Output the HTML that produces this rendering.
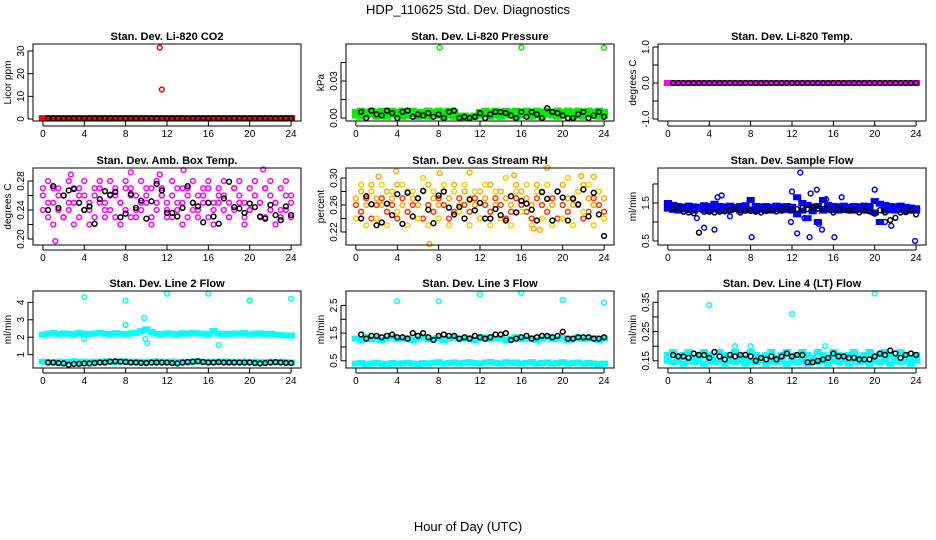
<!DOCTYPE html>
<html><head><meta charset="utf-8"><style>
html,body{margin:0;padding:0;background:#fff;}
svg{display:block;font-family:"Liberation Sans",sans-serif;}
</style></head><body>
<svg id="chart" width="936" height="540" viewBox="0 0 936 540" xmlns="http://www.w3.org/2000/svg">
<text x="468" y="14" text-anchor="middle" font-size="13">HDP_110625  Std. Dev. Diagnostics</text>
<text x="468" y="531" text-anchor="middle" font-size="13">Hour of Day (UTC)</text>
</svg>
<script>
// ---- data ----
const xTicks=[0,4,8,12,16,20,24];
const co2Color=[0.4,0.4,0.4,0.4,0.4,0.4,0.4,0.4,0.4,0.4,0.4,0.4,0.4,0.4,0.4,0.4,0.4,0.4,0.4,0.4,0.4,0.4,0.4,0.4,0.4,0.4,0.4,0.4,0.4,0.4,0.4,0.4,0.4,0.4,0.4,0.4,0.4,0.4,0.4,0.4,0.4,0.4,0.4,0.4,0.4,0.4,0.4,0.4,0.4];
const co2Black=[0.3,0.3,0.3,0.3,0.3,0.3,0.3,0.3,0.3,0.3,0.3,0.3,0.3,0.3,0.3,0.3,0.3,0.3,0.3,0.3,0.3,0.3,0.3,0.3,0.3,0.3,0.3,0.3,0.3,0.3,0.3,0.3,0.3,0.3,0.3,0.3,0.3,0.3,0.3,0.3,0.3,0.3,0.3,0.3,0.3,0.3,0.3,0.3];
const co2OutX=[11.3,11.5];
const co2OutY=[31.5,13];

const presColor=[0.005,0.006,0.005,0.006,0.005,0.006,0.005,0.006,0.005,0.006,0.005,0.006,0.005,0.005,0.006,0.005,0.006,0.005,0.006,0.005,0.002,0.002,0.001,0.002,0.005,0.006,0.005,0.006,0.005,0.006,0.005,0.006,0.005,0.006,0.005,0.006,0.005,0.006,0.005,0.006,0.005,0.006,0.005,0.006,0.005,0.006,0.005,0.006,0.005];
const presColor2=[0.002,0.001,0.002,0.003,0.001,0.002,0.001,0.003,0.002,0.001,0.002,0.003,0.001,0.002,0.001,0.003,0.002,0.001,0.002,0.001,0.001,0.0,0.001,0.001,0.002,0.003,0.001,0.002,0.001,0.003,0.002,0.001,0.002,0.003,0.001,0.002,0.001,0.003,0.002,0.001,0.002,0.003,0.001,0.002,0.001,0.003,0.002,0.001,0.002];
const presBlack=[0.005,0.0,0.006,0.003,0.002,0.006,0.004,0.0,0.005,0.006,0.001,0.003,0.002,0.004,0.001,0.003,0.0,0.005,0.006,0.0,0.001,0.0,0.001,0.004,0.0,0.003,0.005,0.005,0.004,0.002,0.0,0.005,0.001,0.005,0.003,0.0,0.008,0.005,0.004,0.002,0.0,0.0,0.003,0.005,0.0,0.002,0.005,0.001];
const presOutX=[8.1,16,24];
const presOutY=[0.057,0.057,0.057];

const tempColor=[0,0,0,0,0,0,0,0,0,0,0,0,0,0,0,0,0,0,0,0,0,0,0,0,0,0,0,0,0,0,0,0,0,0,0,0,0,0,0,0,0,0,0,0,0,0,0,0,0];
const tempBlack=[0,0,0,0,0,0,0,0,0,0,0,0,0,0,0,0,0,0,0,0,0,0,0,0,0,0,0,0,0,0,0,0,0,0,0,0,0,0,0,0,0,0,0,0,0,0,0,0];

const ambColor=[0.26,0.25,0.27,0.24,0.26,0.25,0.27,0.26,0.24,0.25,0.26,0.27,0.25,0.24,0.26,0.25,0.27,0.26,0.24,0.25,0.26,0.27,0.25,0.26,0.24,0.26,0.25,0.27,0.26,0.25,0.24,0.26,0.27,0.25,0.26,0.24,0.25,0.27,0.26,0.25,0.24,0.26,0.25,0.27,0.26,0.25,0.24,0.26,0.25];
const ambColor2=[0.24,0.23,0.25,0.26,0.23,0.24,0.25,0.23,0.26,0.24,0.23,0.25,0.24,0.26,0.23,0.25,0.24,0.23,0.26,0.24,0.25,0.23,0.24,0.26,0.25,0.23,0.24,0.25,0.23,0.24,0.26,0.25,0.23,0.24,0.25,0.26,0.23,0.24,0.25,0.23,0.24,0.26,0.25,0.23,0.24,0.25,0.23,0.24,0.26];
const ambColor3=[0.27,0.28,0.22,0.27,0.23,0.28,0.22,0.27,0.28,0.22,0.27,0.28,0.23,0.28,0.27,0.22,0.28,0.27,0.23,0.28,0.27,0.22,0.28,0.27,0.23,0.28,0.27,0.22,0.27,0.28,0.23,0.27,0.28,0.22,0.27,0.28,0.23,0.27,0.28,0.22,0.27,0.28,0.23,0.27,0.28,0.22,0.27,0.28,0.23];
const ambBlack=[0.24,0.273,0.243,0.26,0.267,0.269,0.25,0.24,0.245,0.221,0.255,0.266,0.261,0.265,0.23,0.235,0.262,0.243,0.253,0.228,0.252,0.276,0.267,0.236,0.236,0.231,0.243,0.273,0.25,0.245,0.223,0.25,0.231,0.221,0.256,0.279,0.244,0.242,0.236,0.249,0.244,0.231,0.228,0.247,0.233,0.226,0.245,0.233];
const ambOutX=[1.2,21.3,2.7,8.5,11.3,13.6];
const ambOutY=[0.197,0.296,0.289,0.292,0.289,0.295];

const rhColor=[0.27,0.28,0.26,0.29,0.27,0.26,0.28,0.27,0.29,0.26,0.28,0.27,0.26,0.28,0.29,0.27,0.26,0.28,0.27,0.29,0.26,0.28,0.27,0.26,0.28,0.27,0.29,0.26,0.28,0.27,0.26,0.29,0.28,0.27,0.26,0.29,0.28,0.27,0.26,0.28,0.29,0.27,0.26,0.28,0.29,0.27,0.26,0.28,0.27];
const rhColor2=[0.26,0.25,0.27,0.24,0.26,0.27,0.25,0.26,0.24,0.27,0.25,0.26,0.27,0.24,0.26,0.25,0.27,0.26,0.24,0.25,0.27,0.26,0.25,0.27,0.24,0.26,0.25,0.27,0.26,0.24,0.25,0.27,0.26,0.25,0.24,0.27,0.26,0.25,0.27,0.24,0.26,0.25,0.27,0.26,0.24,0.25,0.27,0.26,0.25];
const rhColor3=[0.24,0.29,0.23,0.28,0.24,0.29,0.23,0.28,0.25,0.29,0.23,0.28,0.24,0.3,0.23,0.28,0.24,0.29,0.23,0.28,0.25,0.29,0.23,0.28,0.24,0.29,0.23,0.28,0.24,0.3,0.23,0.28,0.25,0.29,0.23,0.28,0.24,0.29,0.23,0.28,0.24,0.3,0.23,0.28,0.25,0.29,0.23,0.28,0.24];
const rhBlack=[0.24,0.273,0.261,0.23,0.234,0.262,0.245,0.276,0.232,0.278,0.243,0.27,0.281,0.253,0.233,0.274,0.28,0.256,0.246,0.257,0.24,0.268,0.252,0.263,0.24,0.24,0.254,0.245,0.237,0.273,0.249,0.266,0.262,0.253,0.237,0.279,0.269,0.237,0.28,0.271,0.237,0.269,0.261,0.283,0.243,0.278,0.246,0.214];
const rhOutX=[7.1,2.2,3.9,8.1,11,15.3,17.2,18.5,21.8,23,17.8];
const rhOutY=[0.202,0.302,0.31,0.307,0.308,0.304,0.225,0.315,0.303,0.302,0.223];

const flowColor=[1.5,1.45,1.42,1.4,1.43,1.41,1.4,1.44,1.42,1.48,1.42,1.41,1.43,1.4,1.42,1.44,1.58,1.42,1.41,1.42,1.4,1.43,1.41,1.42,1.4,1.65,1.5,1.45,1.4,1.42,1.58,1.45,1.42,1.41,1.43,1.4,1.42,1.41,1.43,1.42,1.55,1.48,1.45,1.42,1.41,1.43,1.4,1.38,1.36];
const flowColor2=[1.35,1.32,1.3,1.33,1.31,1.3,1.34,1.32,1.3,1.33,1.31,1.3,1.32,1.34,1.3,1.31,1.33,1.3,1.32,1.31,1.3,1.33,1.31,1.32,1.3,1.2,1.3,1.1,1.28,1.0,1.3,1.32,1.31,1.3,1.33,1.31,1.3,1.32,1.31,1.3,1.25,1.0,1.3,1.31,1.3,1.32,1.3,1.31,1.3];
const flowBlack=[1.35,1.38,1.27,1.25,1.23,0.72,1.27,1.27,1.25,1.27,1.28,1.3,1.35,1.25,1.3,1.29,1.27,1.25,1.29,1.32,1.28,1.3,1.34,1.32,1.34,1.37,1.34,1.4,1.35,1.34,1.38,1.25,1.34,1.32,1.3,1.31,1.25,1.3,1.28,1.22,1.31,1.25,1.05,1.11,1.25,1.26,1.3,1.2];
const flowOutX=[3.5,4.8,5.2,4.5,8.1,12,12.5,12.8,13.2,13.8,14.4,14.6,14.9,15.3,16.1,16.8,20,21,21.6,23.9,2.8,6,11.9,13.7];
const flowOutY=[0.85,1.65,1.7,0.8,0.6,1.8,0.7,2.3,1.1,1.75,1.85,0.95,0.8,1.6,0.6,1.65,1.85,1.0,0.9,0.5,1.1,1.15,1.0,0.6];

const l2Color=[2.15,2.2,2.25,2.18,2.22,2.2,2.16,2.24,2.2,2.18,2.22,2.26,2.2,2.17,2.23,2.2,2.18,2.22,2.25,2.35,2.45,2.3,2.2,2.18,2.22,2.2,2.17,2.23,2.2,2.25,2.22,2.2,2.18,2.35,2.2,2.2,2.18,2.22,2.2,2.24,2.15,2.2,2.22,2.18,2.2,2.15,2.12,2.1,2.1];
const l2Color2=[0.6,0.58,0.55,0.6,0.57,0.6,0.62,0.58,0.6,0.56,0.6,0.58,0.62,0.6,0.57,0.6,0.62,0.58,0.6,0.57,0.6,0.58,0.62,0.6,0.56,0.6,0.58,0.6,0.55,0.6,0.62,0.58,0.6,0.57,0.6,0.62,0.58,0.6,0.57,0.6,0.58,0.6,0.55,0.58,0.6,0.57,0.6,0.58,0.55];
const l2Black=[0.55,0.55,0.52,0.5,0.42,0.47,0.48,0.5,0.5,0.52,0.55,0.55,0.6,0.62,0.6,0.58,0.55,0.55,0.53,0.52,0.55,0.55,0.55,0.55,0.52,0.5,0.55,0.58,0.6,0.62,0.58,0.55,0.55,0.57,0.55,0.55,0.55,0.55,0.55,0.55,0.52,0.5,0.52,0.55,0.57,0.55,0.53,0.52];
const l2OutX=[4,8,12,16,20,24,8,9.8,9.9,10.1,17,4];
const l2OutY=[4.3,4.1,4.5,4.5,4.1,4.2,2.7,3.1,1.9,1.65,1.55,1.9];

const l3Color=[1.3,1.25,1.35,1.28,1.32,1.25,1.3,1.35,1.28,1.3,1.32,1.25,1.3,1.35,1.28,1.3,1.32,1.25,1.3,1.35,1.28,1.3,1.32,1.25,1.3,1.35,1.28,1.3,1.32,1.25,1.3,1.35,1.28,1.3,1.32,1.25,1.3,1.35,1.28,1.3,1.32,1.25,1.3,1.35,1.28,1.3,1.32,1.25,1.3];
const l3Color2=[0.4,0.42,0.38,0.4,0.43,0.4,0.38,0.42,0.4,0.41,0.43,0.4,0.38,0.42,0.4,0.43,0.45,0.4,0.42,0.44,0.4,0.43,0.45,0.42,0.4,0.44,0.46,0.42,0.4,0.45,0.42,0.44,0.4,0.43,0.45,0.4,0.42,0.44,0.4,0.42,0.45,0.4,0.42,0.44,0.4,0.42,0.4,0.38,0.4];
const l3Black=[1.45,1.3,1.4,1.4,1.35,1.4,1.45,1.35,1.35,1.3,1.5,1.4,1.5,1.35,1.25,1.4,1.45,1.4,1.4,1.3,1.35,1.3,1.4,1.35,1.3,1.35,1.45,1.45,1.5,1.25,1.3,1.35,1.4,1.3,1.35,1.4,1.4,1.35,1.4,1.55,1.3,1.3,1.35,1.35,1.35,1.3,1.3,1.35];
const l3OutX=[4,8,12,16,20,24];
const l3OutY=[2.65,2.65,2.9,2.95,2.7,2.6];

const l4Color=[0.17,0.18,0.16,0.17,0.18,0.16,0.17,0.18,0.17,0.16,0.18,0.17,0.16,0.18,0.17,0.16,0.18,0.17,0.16,0.17,0.18,0.16,0.17,0.18,0.16,0.17,0.18,0.17,0.16,0.18,0.17,0.16,0.18,0.17,0.16,0.17,0.18,0.16,0.17,0.18,0.16,0.17,0.18,0.17,0.16,0.18,0.17,0.16,0.17];
const l4Color2=[0.15,0.145,0.15,0.14,0.15,0.145,0.15,0.14,0.15,0.145,0.15,0.14,0.15,0.145,0.15,0.14,0.15,0.145,0.15,0.14,0.15,0.145,0.15,0.14,0.15,0.145,0.15,0.14,0.15,0.145,0.15,0.14,0.15,0.145,0.15,0.14,0.15,0.145,0.15,0.14,0.15,0.145,0.15,0.14,0.15,0.145,0.15,0.14,0.15];
const l4Black=[0.17,0.165,0.165,0.16,0.175,0.17,0.17,0.16,0.18,0.165,0.155,0.17,0.165,0.17,0.17,0.165,0.15,0.16,0.155,0.165,0.155,0.165,0.175,0.165,0.17,0.17,0.145,0.145,0.15,0.155,0.16,0.175,0.165,0.165,0.16,0.16,0.155,0.155,0.155,0.165,0.175,0.17,0.185,0.175,0.16,0.17,0.175,0.17];
const l4OutX=[4,12,20,8,15.2,6.5];
const l4OutY=[0.34,0.31,0.38,0.2,0.2,0.2];

// ---- layout ----
const svg=document.getElementById('chart');
const NS='http://www.w3.org/2000/svg';
function el(tag,attrs,parent){const e=document.createElementNS(NS,tag);for(const k in attrs)e.setAttribute(k,attrs[k]);(parent||svg).appendChild(e);return e;}
const colL=[33,346,658], rowT=[44,168,291], W=268, H=77;
const panels=[
 {name:'co2',band:true,title:'Stan. Dev. Li-820 CO2',ylab:'Licor ppm',ylim:[-0.88,33.1],ticks:[0,10,20,30],labs:[0,10,20,30],fmt:0,col:[['#ff0000',co2Color]],black:co2Black,ox:co2OutX,oy:co2OutY,oc:'#ff0000'},
 {name:'pressure',band:true,title:'Stan. Dev. Li-820 Pressure',ylab:'kPa',ylim:[-0.0024,0.06],ticks:[0,0.015,0.03,0.045],labs:[0,0.03],fmt:2,col:[['#00ee00',presColor],['#00ee00',presColor2]],black:presBlack,ox:presOutX,oy:presOutY,oc:'#00ee00'},
 {name:'li820-temp',band:true,title:'Stan. Dev. Li-820 Temp.',ylab:'degrees C',ylim:[-1.055,1.083],ticks:[-1,-0.5,0,0.5,1],labs:[-1,0,1],fmt:1,col:[['#ff00ff',tempColor]],black:tempBlack,ox:[],oy:[],oc:'#ff00ff'},
 {name:'amb-box-temp',band:false,title:'Stan. Dev. Amb. Box Temp.',ylab:'degrees C',ylim:[0.1917,0.298],ticks:[0.2,0.22,0.24,0.26,0.28],labs:[0.2,0.24,0.28],fmt:2,col:[['#ff00ff',ambColor],['#ff00ff',ambColor2],['#ff00ff',ambColor3]],black:ambBlack,ox:ambOutX,oy:ambOutY,oc:'#ff00ff'},
 {name:'gas-stream-rh',band:false,title:'Stan. Dev. Gas Stream RH',ylab:'percent',ylim:[0.2007,0.3148],ticks:[0.22,0.24,0.26,0.28,0.3],labs:[0.22,0.26,0.3],fmt:2,col:[['#ffaa00',rhColor],['#ff3300',rhColor2],['#ffcc00',rhColor3]],black:rhBlack,ox:rhOutX,oy:rhOutY,oc:'#ffaa00'},
 {name:'sample-flow',band:true,title:'Stan. Dev. Sample Flow',ylab:'ml/min',ylim:[0.395,2.42],ticks:[0.5,1,1.5,2],labs:[0.5,1.5],fmt:1,col:[['#0000ff',flowColor],['#0000ff',flowColor2]],black:flowBlack,ox:flowOutX,oy:flowOutY,oc:'#0000ff'},
 {name:'line2-flow',band:true,title:'Stan. Dev. Line 2 Flow',ylab:'ml/min',ylim:[0.235,4.65],ticks:[1,2,3,4],labs:[1,2,3,4],fmt:0,col:[['#00ffff',l2Color],['#00ffff',l2Color2]],black:l2Black,ox:l2OutX,oy:l2OutY,oc:'#00ffff'},
 {name:'line3-flow',band:true,title:'Stan. Dev. Line 3 Flow',ylab:'ml/min',ylim:[0.24,3.02],ticks:[0.5,1,1.5,2,2.5],labs:[0.5,1.5,2.5],fmt:1,col:[['#00ffff',l3Color],['#00ffff',l3Color2]],black:l3Black,ox:l3OutX,oy:l3OutY,oc:'#00ffff'},
 {name:'line4-flow',band:true,title:'Stan. Dev. Line 4 (LT) Flow',ylab:'ml/min',ylim:[0.1254,0.3886],ticks:[0.15,0.2,0.25,0.3,0.35],labs:[0.15,0.25,0.35],fmt:2,col:[['#00ffff',l4Color],['#00ffff',l4Color2]],black:l4Black,ox:l4OutX,oy:l4OutY,oc:'#00ffff'}
];
panels.forEach((p,idx)=>{
  const L=colL[idx%3], T=rowT[Math.floor(idx/3)];
  const g=el('g',{});
  
  
  const xs=t=>L+(t+0.96)*W/25.92;
  const ys=v=>T+H-(v-p.ylim[0])/(p.ylim[1]-p.ylim[0])*H;
  const tt=el('text',{x:L+W/2,y:T-4,'text-anchor':'middle','font-size':11,'font-weight':'bold'},g);
  tt.textContent=p.title;
  
  
  const marks=el('g',{fill:'none','stroke-width':1.5},g);
  const circ=(x,y,c)=>{const e=el('circle',{cx:x,cy:y,r:2.4,stroke:c},marks);
    
    };
  p.col.forEach(([c,arr])=>{
    const step=(xs(24)-xs(0))/(arr.length-1);
    arr.forEach((v,i)=>{
      const x=xs(24*i/(arr.length-1)), y=ys(v);
      if(p.band){
        const r=el('rect',{x:x-step/2-1.5,y:y-3,width:step+3,height:6,fill:c},marks);
        
        
      } else circ(x,y,c);
    });
  });
  p.ox.forEach((x,i)=>circ(xs(x),ys(p.oy[i]),p.oc));
  p.black.forEach((v,i)=>circ(xs(24*(i+1)/p.black.length),ys(v),'#000'));
  const box=el('rect',{x:L,y:T,width:W,height:H,fill:'none',stroke:'#000','stroke-width':1},g);
  
  
  xTicks.forEach(t=>{
    const x=xs(t);
    el('line',{x1:x,x2:x,y1:T+H,y2:T+H+5,stroke:'#000'},g);
    const lt=el('text',{x:x,y:T+H+16,'text-anchor':'middle','font-size':10},g);
    lt.textContent=t;
    
    
  });
  el('line',{x1:xs(0),x2:xs(24),y1:T+H+5,y2:T+H+5,stroke:'#000'},g);
  p.ticks.forEach(v=>{el('line',{x1:L-5,x2:L,y1:ys(v),y2:ys(v),stroke:'#000'},g);});
  el('line',{x1:L-5,x2:L-5,y1:ys(p.ticks[0]),y2:ys(p.ticks[p.ticks.length-1]),stroke:'#000'},g);
  p.labs.forEach(v=>{
    const y=ys(v);
    const lt=el('text',{x:L-9,y:y,'text-anchor':'middle','font-size':10,transform:`rotate(-90 ${L-9} ${y})`},g);
    lt.textContent=v.toFixed(p.fmt);
    
    
  });
  const yl=el('text',{x:L-22,y:T+H/2,'text-anchor':'middle','font-size':10,transform:`rotate(-90 ${L-22} ${T+H/2})`},g);
  yl.textContent=p.ylab;
  
  
});
</script>
</body></html>
